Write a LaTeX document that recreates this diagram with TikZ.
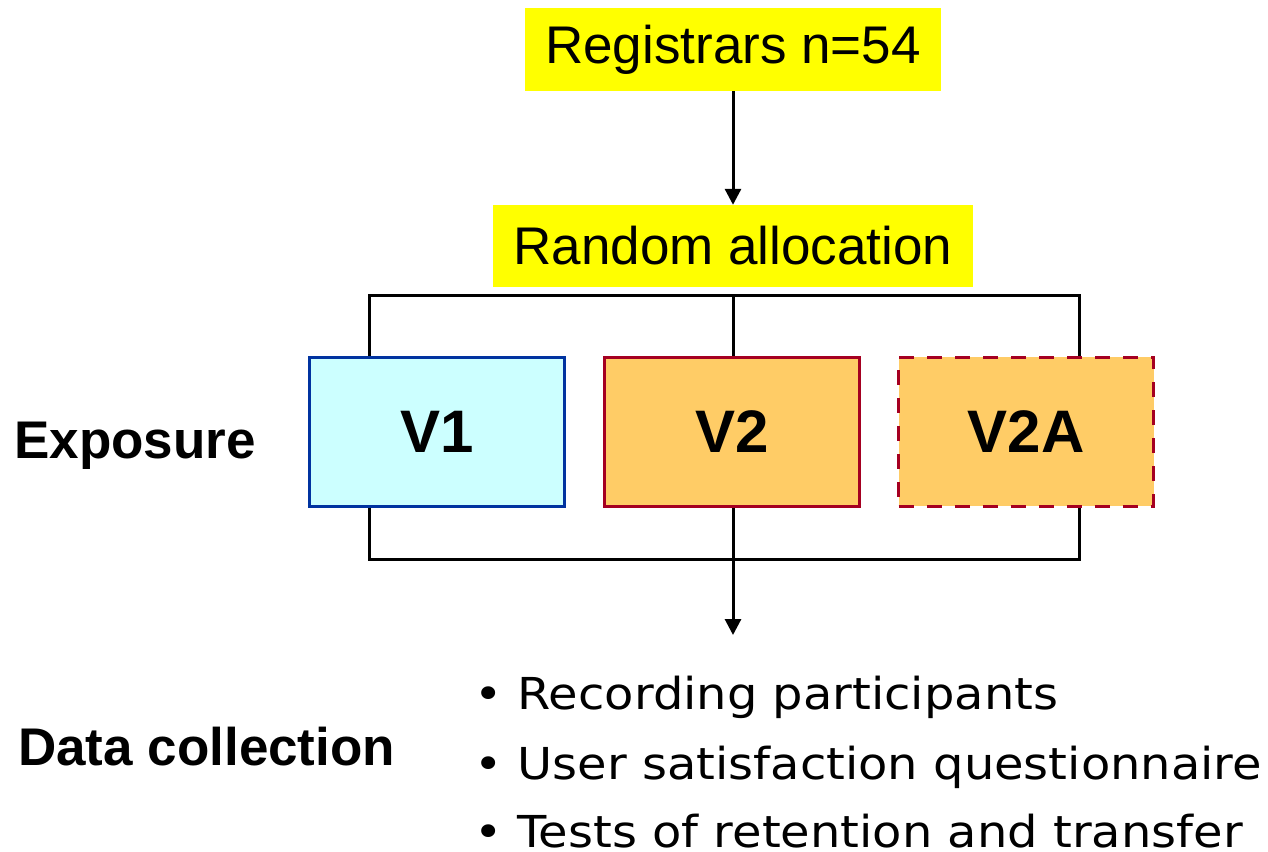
\documentclass[tikz,border=0pt]{standalone}
\usepackage{fontspec}
\usepackage{graphicx}
\setmainfont{Liberation Sans}
\newfontfamily\bulletfont{DejaVu Sans}
\usetikzlibrary{arrows.meta}
\definecolor{hlyellow}{HTML}{FFFF00}
\definecolor{vonefill}{HTML}{CCFFFF}
\definecolor{vonedraw}{HTML}{0033A0}
\definecolor{vtwofill}{HTML}{FFCC66}
\definecolor{vtwodraw}{HTML}{A50021}
\newcommand{\wideitem}[1]{\scalebox{1.09}[1]{#1}}
\tikzset{
  hlbox/.style={fill=hlyellow, inner sep=0pt, font=\fontsize{53}{60}\selectfont},
  armbox/.style={line width=3pt, minimum width=255pt, minimum height=149pt, inner sep=0pt, font=\fontsize{60}{66}\selectfont\bfseries},
  conn/.style={line width=3pt, draw=black},
  arr/.style={conn, -{Triangle[width=16pt,length=16pt]}},
  sidelabel/.style={anchor=base west, inner sep=0pt, font=\fontsize{53}{58}\selectfont\bfseries},
  bulletitem/.style={anchor=base west, inner sep=0pt, font=\bulletfont\fontsize{44}{50}\selectfont}
}
\begin{document}
\begin{tikzpicture}[x=1pt,y=-1pt]
\useasboundingbox (0,0) rectangle (1268,851);
% top boxes
\node[hlbox, minimum width=416pt, minimum height=83pt] (reg) at (733,49.5) {Registrars n=54};
\node[hlbox, minimum width=480pt, minimum height=82pt] (alloc) at (733,246) {Random allocation};
% arms
\node[armbox, fill=vonefill, draw=vonedraw] (v1) at (437,431.5) {V1};
\node[armbox, fill=vtwofill, draw=vtwodraw] (v2) at (732,431.5) {V2};
\coordinate (tl) at (369,295);
\coordinate (tr) at (1079,295);
\coordinate (bl) at (369,559);
\coordinate (br) at (1079,559);
\coordinate (out) at (733,635);
% connectors behind V2A
\draw[arr] (reg.south) -- (alloc.north);
\draw[conn] (v1.north -| tl) -- (tl) -- (tr) -- (tr |- 400,356);
\draw[conn] (alloc.south |- tl) -- (alloc.south |- v2.north);
\draw[conn] (v1.south -| bl) -- (bl) -- (br) -- (br |- 400,508);
\draw[arr] (v2.south -| out) -- (out);
\node[armbox, fill=vtwofill, draw=vtwodraw, dash pattern=on 15pt off 13pt] (v2a) at (1026,431.5) {V2A};
% side labels
\node[sidelabel] (expo) at (14,458) {Exposure};
\node[sidelabel] (data) at (18,765) {Data collection};
% bullets
\node[bulletitem] (b1) at (474,709) {\wideitem{• Recording participants}};
\node[bulletitem] (b2) at (474,779) {\wideitem{• User satisfaction questionnaire}};
\node[bulletitem] (b3) at (474,847) {\wideitem{• Tests of retention and transfer}};
\end{tikzpicture}
\end{document}
